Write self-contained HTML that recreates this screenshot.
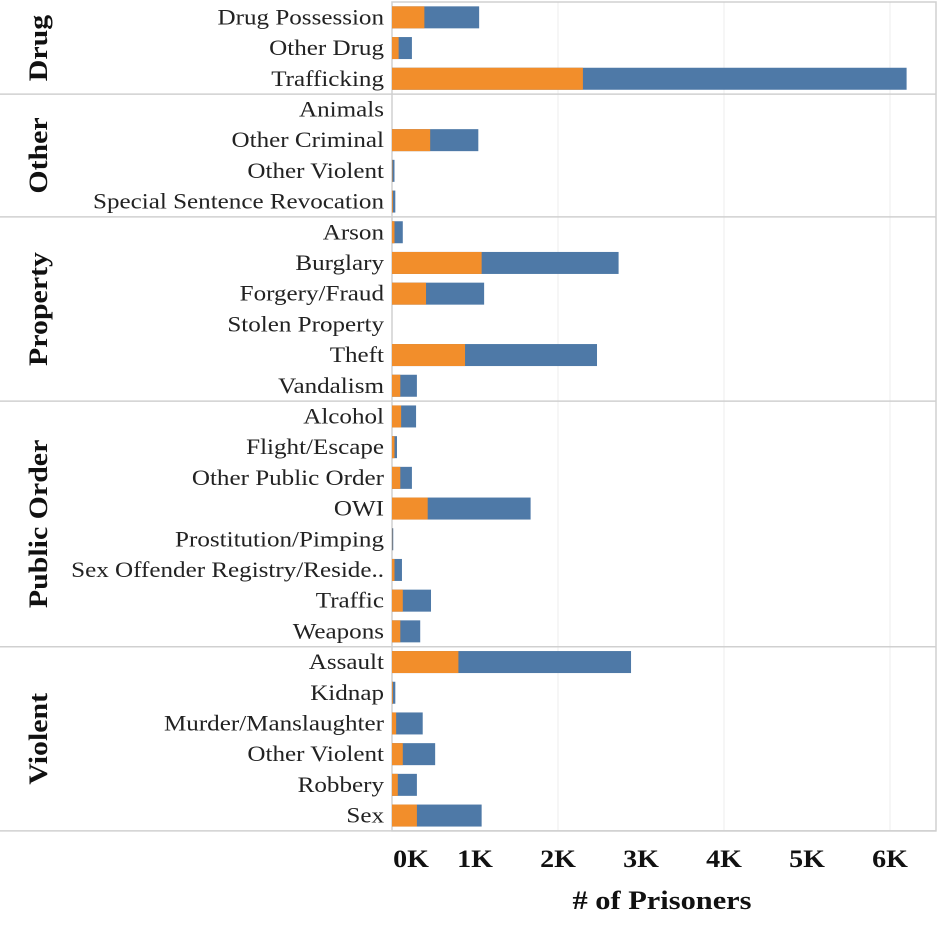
<!DOCTYPE html>
<html><head><meta charset="utf-8"><style>
body{margin:0;background:#fff;width:949px;height:927px;overflow:hidden}
svg text{font-family:"Liberation Serif",serif}
</style></head><body>
<svg id="chart" width="949" height="927" xmlns="http://www.w3.org/2000/svg"></svg>
<script>
const groups=["Drug","Other","Property","Public Order","Violent"];
const groupSizes=[3,4,6,8,6];
const categories=["Drug Possession","Other Drug","Trafficking","Animals","Other Criminal","Other Violent","Special Sentence Revocation","Arson","Burglary","Forgery/Fraud","Stolen Property","Theft","Vandalism","Alcohol","Flight/Escape","Other Public Order","OWI","Prostitution/Pimping","Sex Offender Registry/Reside..","Traffic","Weapons","Assault","Kidnap","Murder/Manslaughter","Other Violent","Robbery","Sex"];
const orangeValues=[390,80,2300,0,460,5,10,30,1080,410,0,880,100,110,30,100,430,3,30,130,100,800,10,50,130,70,300];
const totalValues=[1050,240,6200,0,1040,30,40,130,2730,1110,0,2470,300,290,60,240,1670,15,120,470,340,2880,40,370,520,300,1080];
const tickValues=[0,1000,2000,3000,4000,5000,6000];
const tickLabels=["0K","1K","2K","3K","4K","5K","6K"];
const NS="http://www.w3.org/2000/svg";
const svg=document.getElementById('chart');
const x0=392,pxPerK=83,topY=2,rowH=30.7,rightX=936;
const xs=v=>x0+v/1000*pxPerK;
const ys=i=>topY+i*rowH;
function mk(t,a){const e=document.createElementNS(NS,t);for(const k in a)e.setAttribute(k,a[k]);svg.appendChild(e);return e;}
const bottomY=ys(categories.length);
[2000,4000,6000].forEach(v=>{const g=mk('line',{x1:xs(v),x2:xs(v),y1:topY,y2:bottomY,stroke:'#ececec','stroke-width':1});

});
const f=mk('rect',{x:x0,y:topY,width:rightX-x0,height:bottomY-topY,fill:'none',stroke:'#d0d0d0','stroke-width':1.5});


let idx=0;
groups.forEach((g,gi)=>{
 const y1=ys(idx),y2=ys(idx+groupSizes[gi]);
 if(gi>0){const l=mk('line',{x1:0,x2:rightX,y1:y1,y2:y1,stroke:'#d0d0d0','stroke-width':1.5});
 
 }
 const cy=(y1+y2)/2;
 const t=mk('text',{x:0,y:0,transform:`translate(47,${cy}) rotate(-90) scale(1.15,1)`,'text-anchor':'middle','font-size':26,'font-weight':'bold',fill:'#111'});
 t.textContent=g;
 
 
 idx+=groupSizes[gi];
});
const bl=mk('line',{x1:0,x2:rightX,y1:bottomY,y2:bottomY,stroke:'#d0d0d0','stroke-width':1.5});


categories.forEach((c,i)=>{
 const cy=ys(i)+rowH/2;
 const t=mk('text',{x:0,y:0,transform:`translate(384,${cy+7}) scale(1.14,1)`,'text-anchor':'end','font-size':22,fill:'#222'});
 t.textContent=c;
 
 
 if(totalValues[i]>0){
  const b=mk('rect',{x:xs(0),y:cy-11,width:xs(totalValues[i])-xs(0),height:22,fill:'#4e79a7'});
  
  
 }
 if(orangeValues[i]>0){
  const o=mk('rect',{x:xs(0),y:cy-11,width:xs(orangeValues[i])-xs(0),height:22,fill:'#f28e2b'});
  
  
 }
});
tickValues.forEach((v,i)=>{
 let x=xs(v); if(v===0)x=411; if(v===1000)x=475;
 const t=mk('text',{x:0,y:0,transform:`translate(${x},867) scale(1.12,1)`,'text-anchor':'middle','font-size':25,'font-weight':'bold',fill:'#111'});
 t.textContent=tickLabels[i];
 
 
});
const at=mk('text',{x:0,y:0,transform:'translate(662,909) scale(1.17,1)','text-anchor':'middle','font-size':26,'font-weight':'bold',fill:'#111'});
at.textContent="# of Prisoners";


</script>
</body></html>
